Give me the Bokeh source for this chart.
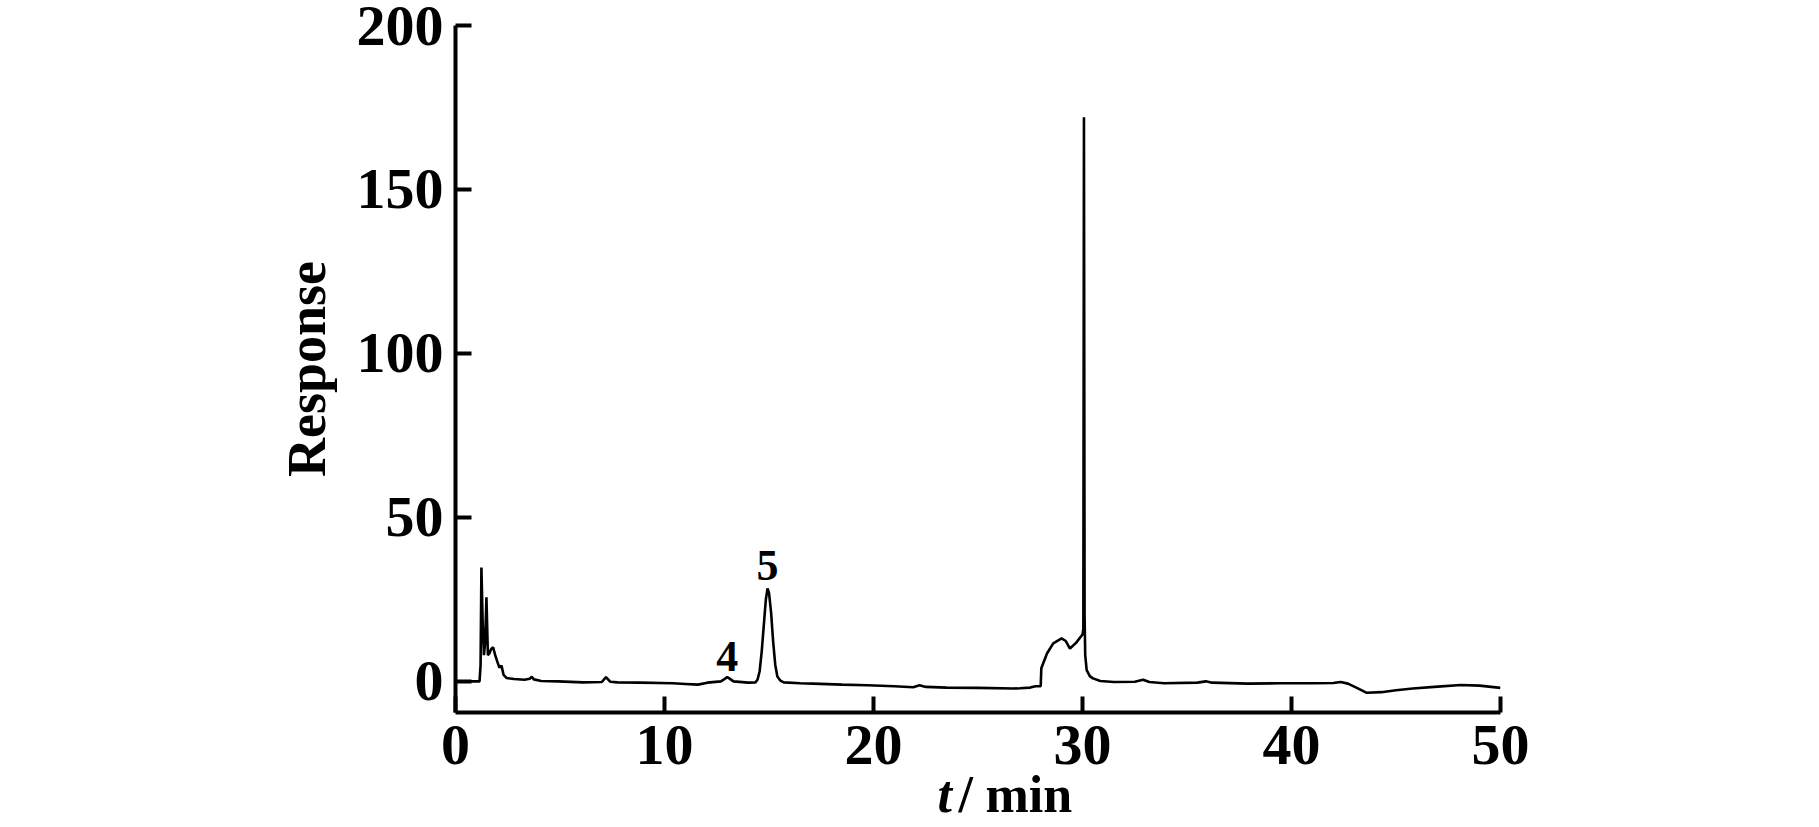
from bokeh.plotting import figure
from bokeh.models import Range1d, FixedTicker, ColumnDataSource
from bokeh.layouts import column
from bokeh.core.properties import value
from bokeh.embed import file_html
from bokeh.resources import INLINE

# Chromatogram trace (retention time in min, detector response)
time_min = [0, 1.15, 1.2, 1.24, 1.3, 1.36, 1.42, 1.48, 1.55, 1.62, 1.7, 1.8, 1.9, 2.0, 2.1,
            2.2, 2.3, 2.45, 2.8, 3.3, 3.55, 3.65, 3.75, 4.1, 4.9, 6.1, 7.0, 7.2, 7.4, 7.75,
            8.85, 10.4, 11.0, 11.6, 12.05, 12.7, 12.9, 13.0, 13.1, 13.3, 14.0, 14.35, 14.45,
            14.55, 14.65, 14.75, 14.85, 14.93, 15.0, 15.1, 15.2, 15.3, 15.4, 15.55, 15.7,
            16.5, 17.1, 18.5, 19.7, 21.0, 21.9, 22.2, 22.5, 23.5, 25.0, 26.7, 27.0, 27.5,
            27.75, 28.0, 28.03, 28.3, 28.6, 29.0, 29.2, 29.4, 29.7, 30.0, 30.04, 30.07, 30.1,
            30.13, 30.2, 30.35, 30.5, 30.85, 31.5, 32.5, 32.9, 33.2, 33.9, 35.5, 35.9, 36.2,
            37.9, 39.5, 41.1, 42.0, 42.35, 42.7, 43.2, 43.6, 44.3, 45.0, 45.8, 47.0, 48.1,
            49.0, 50.0]
response = [0, 0, 5, 34.7, 18, 8, 12, 25.6, 8, 8.5, 9.8, 10.4, 8, 6, 4.2,
            4.8, 2, 1.0, 0.7, 0.5, 0.8, 1.4, 0.6, 0.1, 0, -0.3, -0.2, 1.3, -0.1, -0.3,
            -0.4, -0.6, -0.8, -1.0, -0.4, 0, 0.8, 1.3, 0.9, 0, -0.4, -0.3, 0.5,
            3, 9, 17, 25, 28.3, 27, 21, 12, 5, 1.5, 0.2, -0.3,
            -0.6, -0.7, -1.0, -1.2, -1.5, -1.8, -1.2, -1.7, -1.9, -2.0, -2.2, -2.1, -1.9,
            -1.5, -1.5, 4, 8.5, 11.6, 13.1, 12.3, 10, 11.8, 14.3, 16, 172, 20,
            8, 3.4, 1.6, 0.9, 0.1, -0.2, -0.1, 0.5, -0.2, -0.6, -0.4, 0, -0.4,
            -0.7, -0.6, -0.6, -0.5, -0.2, -0.7, -2.2, -3.5, -3.3, -2.7, -2.2, -1.6, -1.1,
            -1.3, -2.0]

# Peak annotations
peak_names = ["4", "5"]
peak_t = [13.0, 14.93]
peak_label_y = [7.7, 35.4]

x_ticks = [0, 10, 20, 30, 40, 50]
y_ticks = [0, 50, 100, 150, 200]

# x-axis title pieces: italic quantity symbol, slash, unit
xtitle_parts = ["t", "/", "min"]
xtitle_pos = [23.06, 24.07, 25.36]

SERIF = "Liberation Serif"
LEFT, RIGHT, FW = 455, 300, 1045
TOP, FH = 25, 687
PH = 812            # fixed total height of the chart canvas
STRIP_H, STRIP_TOP = 62, 760

p = figure(width=LEFT + FW + RIGHT, height=PH,
           min_border_left=LEFT, min_border_right=RIGHT,
           min_border_top=TOP, min_border_bottom=PH - TOP - FH,
           x_range=Range1d(0, 50), y_range=Range1d(-9.5, 200),
           output_backend="svg", toolbar_location=None,
           background_fill_color="white", border_fill_color="white")
p.outline_line_color = None
p.xgrid.visible = False
p.ygrid.visible = False

src = ColumnDataSource(dict(t=time_min, r=response))
p.line("t", "r", source=src, line_color="black", line_width=2.6)

lab_src = ColumnDataSource(dict(x=peak_t, y=peak_label_y, txt=peak_names))
p.text("x", "y", text="txt", source=lab_src, text_font=value(SERIF),
       text_font_size="44px", text_font_style="bold", text_align="center",
       text_baseline="alphabetic", text_color="black")

for ax, ticks in ((p.xaxis[0], x_ticks), (p.yaxis[0], y_ticks)):
    ax.ticker = FixedTicker(ticks=ticks)
    ax.axis_line_width = 4
    ax.axis_line_color = "black"
    ax.major_tick_in = 16
    ax.major_tick_out = 0
    ax.major_tick_line_width = 4
    ax.major_tick_line_color = "black"
    ax.minor_tick_line_color = None
    ax.major_label_text_font = SERIF
    ax.major_label_text_font_size = "58px"
    ax.major_label_text_font_style = "bold"
    ax.major_label_text_color = "black"

p.xaxis.major_label_standoff = 13
p.yaxis.major_label_standoff = 12

p.yaxis.axis_label = "Response"
p.yaxis.axis_label_text_font = SERIF
p.yaxis.axis_label_text_font_size = "54px"
p.yaxis.axis_label_text_font_style = "bold"
p.yaxis.axis_label_text_color = "black"
p.yaxis.axis_label_standoff = 17

# transparent strip pulled up over the chart's bottom border, carrying the x-axis title
p2 = figure(width=LEFT + FW + RIGHT, height=STRIP_H,
            min_border_left=LEFT, min_border_right=RIGHT,
            min_border_top=0, min_border_bottom=0,
            x_range=p.x_range, y_range=Range1d(0, 1),
            x_axis_type=None, y_axis_type=None,
            output_backend="svg", toolbar_location=None,
            background_fill_color=None, border_fill_color=None)
p2.styles = {"margin-top": f"{STRIP_TOP - PH}px"}
p2.outline_line_color = None
p2.xgrid.visible = False
p2.ygrid.visible = False
styles = ["bold italic", "bold", "bold"]
base_y = 1 - (794 - STRIP_TOP) / STRIP_H
for part, xpos, st in zip(xtitle_parts, xtitle_pos, styles):
    p2.text(x=[xpos], y=[base_y], text=[part], text_font=value(SERIF),
            text_font_size="52px", text_font_style=st, text_align="left",
            text_baseline="alphabetic", text_color="black")

layout = column(p, p2, spacing=0)
open("out.html", "w").write(file_html(layout, INLINE))
